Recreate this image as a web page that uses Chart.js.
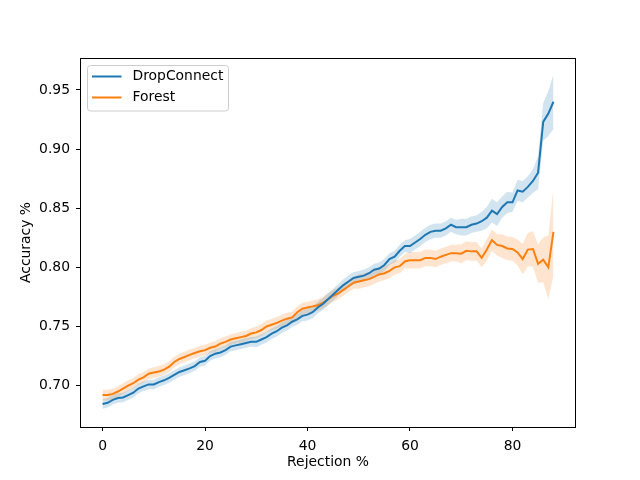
<!DOCTYPE html>
<html>
<head>
<meta charset="utf-8">
<script src="https://cdn.jsdelivr.net/npm/chart.js@4.4.0/dist/chart.umd.min.js"></script>
<style>
    body { margin: 0; background: #fff; }
    #wrap { width: 640px; height: 480px; }
</style>
</head>
<body>
<div id="wrap"><canvas id="accChart" width="640" height="480"></canvas></div>
<script>
// rejection % (x values)
var rejection = [0,1,2,3,4,5,6,7,8,9,10,11,12,13,14,15,16,17,18,19,20,21,22,23,24,25,26,27,28,29,
    30,31,32,33,34,35,36,37,38,39,40,41,42,43,44,45,46,47,48,49,50,51,52,53,54,55,56,57,58,59,
    60,61,62,63,64,65,66,67,68,69,70,71,72,73,74,75,76,77,78,79,80,81,82,83,84,85,86,87,88];

// mean accuracy
var dropConnect = [
    0.6845,0.6855,0.688,0.6895,0.690,0.692,0.694,0.6975,0.6994,0.701,
    0.701,0.703,0.7045,0.7065,0.709,0.7115,0.713,0.7146,0.7165,0.720,
    0.721,0.725,0.727,0.728,0.730,0.733,0.734,0.735,0.736,0.737,
    0.737,0.739,0.741,0.744,0.746,0.749,0.751,0.754,0.756,0.759,
    0.760,0.762,0.766,0.769,0.773,0.777,0.781,0.785,0.788,0.791,
    0.792,0.793,0.795,0.798,0.799,0.802,0.807,0.809,0.814,0.818,
    0.818,0.821,0.824,0.8275,0.830,0.831,0.831,0.833,0.836,0.834,
    0.834,0.834,0.836,0.837,0.839,0.842,0.848,0.845,0.851,0.855,
    0.855,0.865,0.864,0.868,0.873,0.880,0.923,0.930,0.940];
var forest = [
    0.692,0.692,0.693,0.695,0.6975,0.700,0.702,0.705,0.707,0.710,
    0.711,0.712,0.7135,0.716,0.720,0.7225,0.7242,0.726,0.7276,0.729,
    0.730,0.732,0.733,0.7355,0.737,0.739,0.740,0.741,0.742,0.744,
    0.745,0.747,0.750,0.7515,0.753,0.755,0.7566,0.7577,0.762,0.765,
    0.766,0.767,0.768,0.770,0.773,0.776,0.778,0.781,0.784,0.787,
    0.788,0.789,0.790,0.792,0.794,0.795,0.797,0.800,0.801,0.805,
    0.806,0.806,0.806,0.808,0.808,0.807,0.809,0.8105,0.812,0.812,
    0.8115,0.814,0.8135,0.8135,0.808,0.815,0.823,0.819,0.818,0.816,
    0.8155,0.8126,0.807,0.815,0.8155,0.803,0.8064,0.800,0.830];

// half width of the shaded band
var dropConnectSpread = [
    0.004,0.004,0.004,0.004,0.004,0.004,0.004,0.004,0.004,0.004,
    0.004,0.004,0.004,0.004,0.004,0.004,0.004,0.004,0.004,0.004,
    0.004,0.004,0.004,0.004,0.004,0.004,0.004,0.004,0.004,0.004,
    0.0045,0.0045,0.0045,0.0045,0.0045,0.0045,0.0045,0.0045,0.0045,0.0045,
    0.005,0.005,0.005,0.005,0.005,0.005,0.005,0.005,0.005,0.005,
    0.005,0.005,0.005,0.005,0.005,0.005,0.005,0.005,0.005,0.005,
    0.006,0.006,0.006,0.006,0.006,0.006,0.006,0.006,0.006,0.006,
    0.007,0.007,0.007,0.007,0.008,0.009,0.010,0.010,0.009,0.009,
    0.008,0.009,0.009,0.009,0.010,0.014,0.016,0.019,0.023];
var forestSpread = [
    0.0045,0.0045,0.0045,0.0045,0.0045,0.0045,0.0045,0.0045,0.0045,0.0045,
    0.0045,0.0045,0.0045,0.0045,0.0045,0.0045,0.0045,0.0045,0.0045,0.0045,
    0.0045,0.0045,0.0045,0.0045,0.0045,0.0045,0.0045,0.0045,0.0045,0.0045,
    0.005,0.005,0.005,0.005,0.005,0.005,0.005,0.005,0.005,0.005,
    0.005,0.005,0.005,0.005,0.005,0.005,0.005,0.005,0.005,0.005,
    0.006,0.006,0.006,0.006,0.006,0.006,0.006,0.006,0.006,0.006,
    0.007,0.007,0.007,0.007,0.007,0.007,0.007,0.007,0.007,0.007,
    0.008,0.008,0.008,0.008,0.008,0.009,0.009,0.009,0.010,0.010,
    0.010,0.011,0.013,0.014,0.015,0.016,0.019,0.027,0.037];

var xTicks = [0, 20, 40, 60, 80];
var yTicks = [0.70, 0.75, 0.80, 0.85, 0.90, 0.95];

var FONT = 'DejaVu Sans';
var FSIZE = 13.9;

function points(ys, spread, sign) {
    var out = [];
    for (var i = 0; i < rejection.length; i++) {
        var s = spread ? sign * spread[i] : 0;
        out.push({ x: rejection[i], y: ys[i] + s });
    }
    return out;
}

function lineSet(label, ys, color) {
    return {
        label: label, data: points(ys), borderColor: color, borderWidth: 2,
        pointRadius: 0, tension: 0, fill: false, isMain: true
    };
}

function bandSet(ys, spread, sign, fillColor, fillTo) {
    return {
        label: '', data: points(ys, spread, sign), borderWidth: 0, borderColor: 'rgba(0,0,0,0)',
        pointRadius: 0, tension: 0, backgroundColor: fillColor, fill: fillTo
    };
}

// frame on all four sides, like matplotlib spines
var framePlugin = {
    id: 'frame',
    afterDatasetsDraw: function (chart) {
        var a = chart.chartArea, ctx = chart.ctx;
        ctx.save();
        ctx.strokeStyle = '#000';
        ctx.lineWidth = 1;
        ctx.strokeRect(a.left + 0.5, a.top + 0.5, a.right - a.left - 1, a.bottom - a.top);
        ctx.restore();
    }
};

// legend box inside the plot, upper left
var legendPlugin = {
    id: 'boxLegend',
    afterDraw: function (chart) {
        var ctx = chart.ctx, a = chart.chartArea;
        var items = chart.data.datasets.filter(function (d) { return d.isMain; });
        var x = a.left + 7.5, y = a.top + 7.5, w = 141, h = 45.5;
        ctx.save();
        ctx.beginPath();
        ctx.roundRect(x, y, w, h, 3);
        ctx.fillStyle = 'rgba(255,255,255,0.8)';
        ctx.fill();
        ctx.strokeStyle = '#cccccc';
        ctx.lineWidth = 1;
        ctx.stroke();
        ctx.font = FSIZE + 'px "' + FONT + '"';
        ctx.textBaseline = 'middle';
        ctx.fillStyle = '#000';
        items.forEach(function (d, i) {
            var ly = y + 11 + i * 21;
            ctx.beginPath();
            ctx.moveTo(x + 4.5, ly);
            ctx.lineTo(x + 34, ly);
            ctx.strokeStyle = d.borderColor;
            ctx.lineWidth = 2;
            ctx.stroke();
            ctx.fillText(d.label, x + 45, ly);
        });
        ctx.restore();
    }
};

var ctx = document.getElementById('accChart').getContext('2d');
var accChart = new Chart(ctx, {
    type: 'line',
    data: {
        datasets: [
            lineSet('DropConnect', dropConnect, '#1f77b4'),
            lineSet('Forest', forest, '#ff7f0e'),
            bandSet(dropConnect, dropConnectSpread, 1, 'rgba(31,119,180,0.2)', '+1'),
            bandSet(dropConnect, dropConnectSpread, -1, 'rgba(31,119,180,0.2)', false),
            bandSet(forest, forestSpread, 1, 'rgba(255,127,14,0.2)', '+1'),
            bandSet(forest, forestSpread, -1, 'rgba(255,127,14,0.2)', false)
        ]
    },
    options: {
        responsive: false,
        animation: false,
        layout: { padding: { left: 0, top: 58, right: 64, bottom: 0 } },
        plugins: {
            legend: { display: false },
            tooltip: { enabled: false }
        },
        scales: {
            x: {
                type: 'linear',
                min: -4.4,
                max: 92.4,
                afterFit: function (s) { s.height = 53; },
                afterBuildTicks: function (s) {
                    s.ticks = xTicks.map(function (v) { return { value: v }; });
                },
                border: { display: false },
                grid: { drawOnChartArea: false, drawTicks: true, tickLength: 4, tickColor: '#000', tickWidth: 1 },
                ticks: {
                    color: '#000', padding: 7, maxRotation: 0,
                    font: { family: FONT, size: FSIZE },
                    callback: function (v) { return String(v); }
                },
                title: {
                    display: true, text: 'Rejection %', color: '#000',
                    font: { family: FONT, size: FSIZE },
                    padding: { top: 0, bottom: 9 }
                }
            },
            y: {
                min: 0.665,
                max: 0.977,
                afterFit: function (s) { s.width = 80; },
                afterBuildTicks: function (s) {
                    s.ticks = yTicks.map(function (v) { return { value: v }; });
                },
                border: { display: false },
                grid: { drawOnChartArea: false, drawTicks: true, tickLength: 4, tickColor: '#000', tickWidth: 1 },
                ticks: {
                    color: '#000', padding: 6,
                    font: { family: FONT, size: FSIZE },
                    callback: function (v) { return v.toFixed(2); }
                },
                title: {
                    display: true, text: 'Accuracy %', color: '#000',
                    font: { family: FONT, size: FSIZE },
                    padding: { top: 18, bottom: 0 }
                }
            }
        }
    },
    plugins: [framePlugin, legendPlugin]
});
</script>
</body>
</html>
